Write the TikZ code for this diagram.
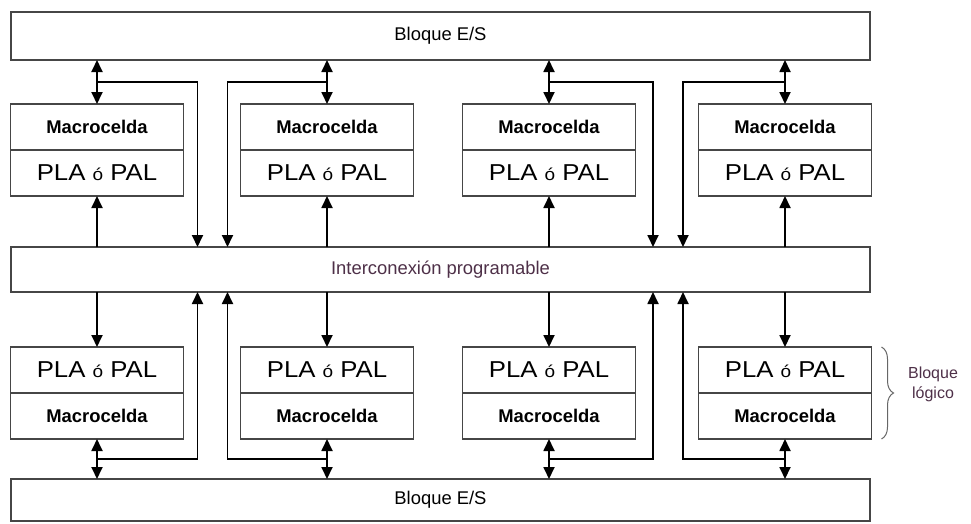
\documentclass[tikz,border=0pt]{standalone}
\usepackage{fontspec}
\setmainfont{Liberation Sans}
\newfontfamily\plafont[FakeStretch=1.12]{Liberation Sans}
\usepackage{tikz}
\usetikzlibrary{calc,arrows.meta,positioning,decorations.pathreplacing}
\definecolor{boxgray}{RGB}{70,70,70}
\definecolor{txtpurple}{RGB}{78,48,72}
\tikzset{
  >={Triangle[width=11pt,length=12pt]},
  bar/.style={draw=boxgray,line width=1.4pt,minimum width=859pt,outer sep=0pt,
    font=\fontsize{18.4}{21}\selectfont},
  cellbold/.style={draw=boxgray,line width=1.4pt,minimum width=173pt,minimum height=46pt,
    outer sep=0pt,font=\bfseries\fontsize{18.4}{21}\selectfont},
  cellpla/.style={draw=boxgray,line width=1.4pt,minimum width=173pt,minimum height=46pt,
    outer sep=0pt,font=\plafont\fontsize{23}{25}\selectfont},
  wire/.style={line width=1.8pt},
  every node/.style={inner sep=2pt}
}
\newcommand{\plaText}{PLA {\fontsize{17}{17}\selectfont ó} PAL}

\begin{document}
\begin{tikzpicture}[x=1pt,y=-1pt]
  \useasboundingbox (0,0) rectangle (971,523);
  \node[bar,minimum height=48pt] (esTop) at (440.5,36) {Bloque E/S};
  \node[bar,minimum height=45pt] (inter) at (440.5,269.5) {\color{txtpurple}Interconexión programable};
  \node[bar,minimum height=42pt] (esBot) at (440.5,500) {Bloque E/S};
  % logic blocks, upper and lower row
  \foreach \i/\x in {1/97,2/327,3/549,4/785}{
    \node[cellbold] (mcT\i) at (\x,127) {Macrocelda};
    \node[cellpla,below=0pt of mcT\i] (plT\i) {\plaText};
    \node[cellpla] (plB\i) at (\x,370) {\plaText};
    \node[cellbold,below=0pt of plB\i] (mcB\i) {Macrocelda};
    \draw[wire,<->] (esTop.south -| mcT\i.north) -- (mcT\i.north);
    \draw[wire,->] (inter.north -| plT\i.south) -- (plT\i.south);
    \draw[wire,->] (inter.south -| plB\i.north) -- (plB\i.north);
    \draw[wire,<->] (mcB\i.south) -- (esBot.north -| mcB\i.south);
  }
  % feedback lines between neighbouring blocks
  \foreach \a/\b/\g in {1/2/211.5,3/4/667}{
    \coordinate (vA\a) at (\g-14,0);
    \coordinate (vB\a) at (\g+16,0);
    \draw[wire,->] ($(esTop.south -| mcT\a.north)!.5!(mcT\a.north)$) -| (inter.north -| vA\a);
    \draw[wire,->] ($(esTop.south -| mcT\b.north)!.5!(mcT\b.north)$) -| (inter.north -| vB\a);
    \draw[wire,->] ($(mcB\a.south)!.5!(esBot.north -| mcB\a.south)$) -| (inter.south -| vA\a);
    \draw[wire,->] ($(mcB\b.south)!.5!(esBot.north -| mcB\b.south)$) -| (inter.south -| vB\a);
  }
  \draw[gray!80!black,line width=1pt,decorate,decoration={brace,amplitude=12pt}]
    ([xshift=10pt]plB4.north east) -- ([xshift=10pt]mcB4.south east);
  \node[align=center,text=txtpurple,font=\fontsize{16}{20}\selectfont] (blq) at (933,384) {Bloque\\lógico};
\end{tikzpicture}
\end{document}
